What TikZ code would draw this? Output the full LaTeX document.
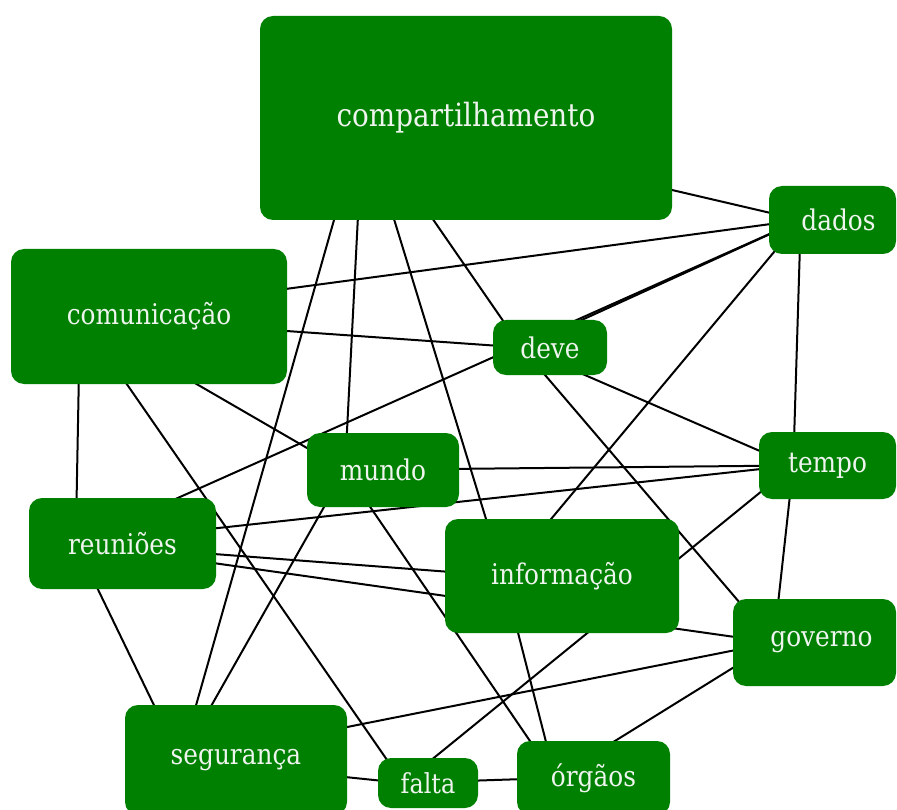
\documentclass[tikz,border=0pt]{standalone}
\usepackage{fontspec}
\setmainfont{DejaVu Serif}[FakeStretch=0.87]
\usetikzlibrary{backgrounds,calc}

\definecolor{boxgreen}{HTML}{008000}
\definecolor{boxtext}{RGB}{238,244,238}

\tikzset{
  term/.style={rectangle, rounded corners=13pt, fill=boxgreen, text=boxtext,
    inner sep=0pt, outer sep=0pt, font=\fontsize{28.5}{30}\selectfont},
  link/.style={draw=black, line width=2pt},
}

\begin{document}
\begin{tikzpicture}[x=1pt, y=-1pt]
  \useasboundingbox (0,0) rectangle (897,810);

  % terms, sized by weight
  \node[term, minimum width=412pt, minimum height=204pt, font=\fontsize{32}{34}\selectfont]
    (comp) at (466,118) {compartilhamento};
  \node[term, minimum width=127pt, minimum height=68pt]  (dados)  at (832.5,220) {\hspace*{12pt}dados};
  \node[term, minimum width=276pt, minimum height=135pt] (comu)   at (149,316.5) {comunicação};
  \node[term, minimum width=114pt, minimum height=55pt]  (deve)   at (550,347.5) {deve};
  \node[term, minimum width=152pt, minimum height=74pt]  (mundo)  at (383,470)   {mundo};
  \node[term, minimum width=137pt, minimum height=67pt]  (tempo)  at (827.5,465.5) {tempo};
  \node[term, minimum width=187pt, minimum height=91pt]  (reun)   at (122.5,543.5) {reuniões};
  \node[term, minimum width=234pt, minimum height=114pt] (info)   at (562,576)   {informação};
  \node[term, minimum width=163pt, minimum height=87pt]  (gov)    at (814.5,642.5) {\hspace*{14pt}governo};
  \node[term, minimum width=222pt, minimum height=110pt] (seg)    at (236,760)   {segurança};
  \node[term, minimum width=100pt, minimum height=50pt, font=\fontsize{27.5}{29}\selectfont]
    (falta) at (428,783) {falta};
  \node[term, minimum width=153pt, minimum height=74pt]  (orgaos) at (593.5,778) {órgãos};

  % anchor point of each term: a quarter of the way across its box
  \foreach \n in {comp,dados,comu,deve,mundo,tempo,reun,info,gov,seg,falta,orgaos}
    \coordinate (\n-p) at ($(\n.west)!0.25!(\n.east)$);

  % co-occurrence links, behind the boxes
  \begin{scope}[on background layer]
    \foreach \a/\b in {
      comp/dados, comp/deve, comp/mundo, comp/seg, comp/info,
      comu/dados, comu/deve, comu/mundo, comu/falta, comu/reun,
      deve/dados, reun/dados, info/dados, tempo/dados,
      deve/tempo, deve/gov,
      mundo/tempo, mundo/seg, mundo/orgaos,
      reun/tempo, reun/info, reun/gov, reun/seg,
      tempo/falta, tempo/gov,
      gov/seg, gov/orgaos,
      info/orgaos,
      seg/falta, falta/orgaos}
      \draw[link] (\a-p) -- (\b-p);
  \end{scope}
\end{tikzpicture}
\end{document}
